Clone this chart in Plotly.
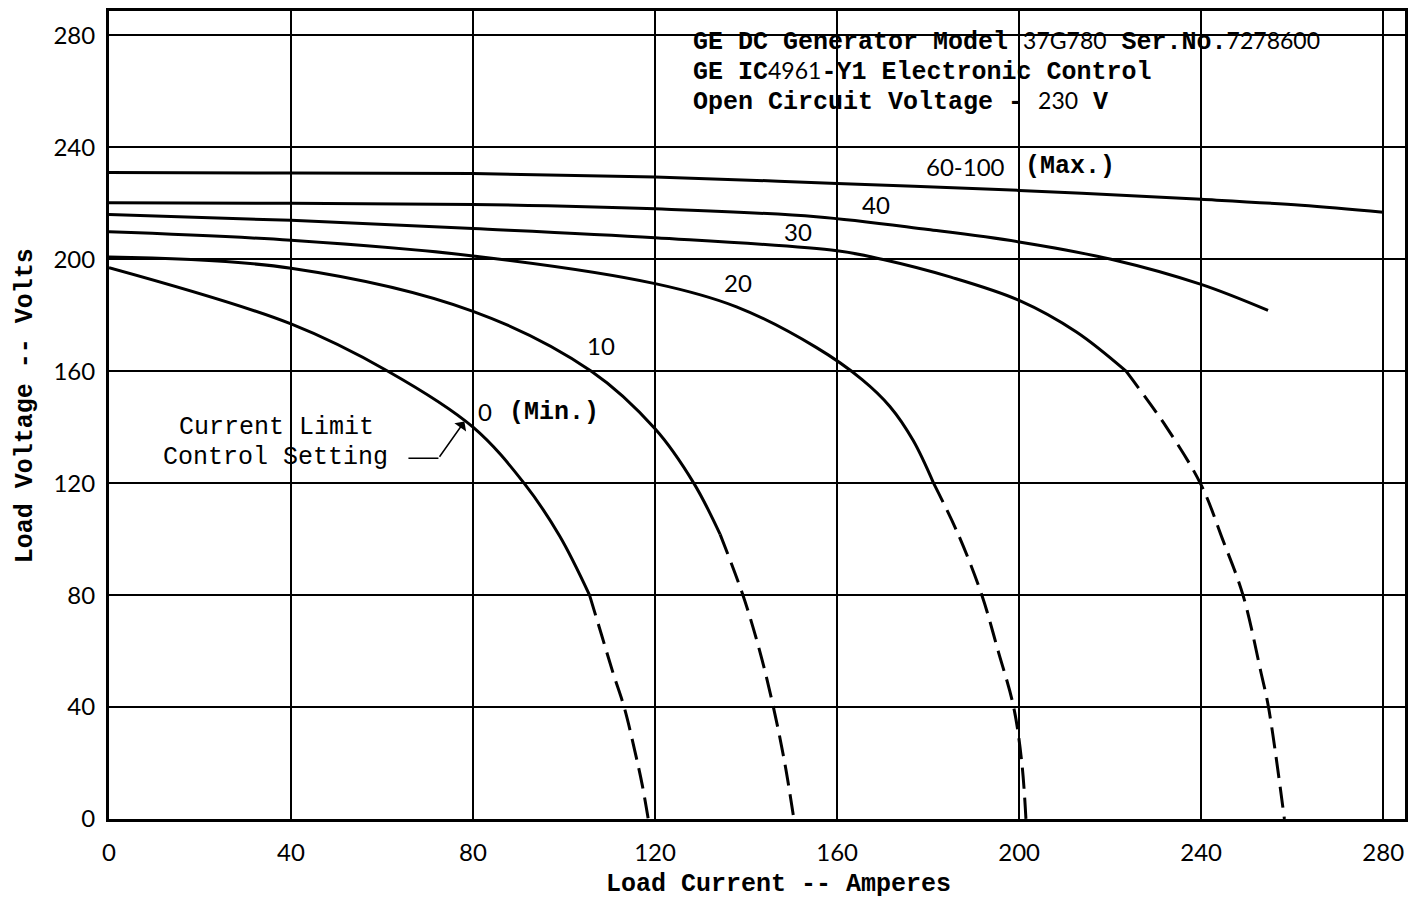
import plotly.graph_objects as go

# ---------------- data ----------------
current_ticks = [0, 40, 80, 120, 160, 200, 240, 280]
current_tick_labels = ["0", "40", "80", "120", "160", "200", "240", "280"]
voltage_ticks = [0, 40, 80, 120, 160, 200, 240, 280]
voltage_tick_labels = ["0", "40", "80", "120", "160", "200", "240", "280"]

# Setting 0 (Min.)
s0_x = [0, 40, 61.3, 80, 91.2, 99, 105.6]
s0_y = [197, 176.9, 160, 140, 120, 101.2, 80]
s0_dash_x = [105.6, 108.2, 110.8, 113.2, 115.6, 117.2, 118.5]
s0_dash_y = [80, 66, 52, 40, 24, 12, 0]

# Setting 10
s10_x = [0, 40, 80, 106, 120, 128.5, 134.3]
s10_y = [200.8, 196.8, 181.4, 160, 139.4, 120, 101.7]
s10_dash_x = [134.3, 139.3, 143, 146, 148.5, 150.5]
s10_dash_y = [101.7, 80, 60, 40, 20, 0]

# Setting 20
s20_x = [0, 40, 80, 120, 137.9, 155.4, 165.5, 171.6, 176.7, 181.2]
s20_y = [209.8, 206.8, 201.2, 191.3, 183, 168.5, 157, 147.4, 135.3, 120]
s20_dash_x = [181.2, 186.7, 191.8, 195.4, 198.8, 200.6, 201.5]
s20_dash_y = [120, 101.4, 80, 60, 40, 20, 0]

# Setting 30
s30_x = [0, 40, 80, 120, 160, 170.1, 185, 200, 212.6, 223.5]
s30_y = [216, 213.9, 211, 207.7, 203, 199.9, 193.6, 185.3, 174, 160]
s30_dash_x = [223.5, 232.3, 240, 244.7, 249.2, 253.2, 254.8, 258.3]
s30_dash_y = [160, 140.2, 119.4, 100, 80, 52, 40, 0]

# Setting 40
s40_x = [0, 40, 80, 120, 155.4, 180, 200, 220.2, 240, 254.7]
s40_y = [220.2, 220, 219.6, 218, 215.2, 210.6, 206.2, 200, 191, 181.7]

# Setting 60-100 (Max.)
smax_x = [0, 40, 80, 120, 160, 200, 240, 262, 280]
smax_y = [231, 230.8, 230.6, 229.4, 227.1, 224.6, 221.4, 219.3, 216.8]

# ---------------- styles ----------------
TYPE = "Liberation Mono"
LETTER = "Lato"
INK = "#000000"

fig = go.Figure()

solid = [(s0_x, s0_y), (s10_x, s10_y), (s20_x, s20_y), (s30_x, s30_y),
         (s40_x, s40_y), (smax_x, smax_y)]
dashed = [(s0_dash_x, s0_dash_y), (s10_dash_x, s10_dash_y),
          (s20_dash_x, s20_dash_y), (s30_dash_x, s30_dash_y)]

for xs, ys in solid:
    fig.add_trace(go.Scatter(x=xs, y=ys, mode="lines",
                             line=dict(color=INK, width=3, shape="spline", smoothing=1.0),
                             showlegend=False, hoverinfo="skip"))
for xs, ys in dashed:
    fig.add_trace(go.Scatter(x=xs, y=ys, mode="lines",
                             line=dict(color=INK, width=3, shape="spline", smoothing=1.0,
                                       dash="21px,9px"),
                             showlegend=False, hoverinfo="skip"))

ann = []
def txt(x, y, t, family=TYPE, size=25, weight="normal", xanchor="center"):
    ann.append(dict(x=x, y=y, xref="x", yref="y", text=t, showarrow=False,
                    xanchor=xanchor, yanchor="middle",
                    font=dict(family=family, size=size, color=INK, weight=weight)))

sans = "<span style=\"font-family:Lato;font-weight:400;font-size:23px\">%s</span>"

# header block
txt(127.9, 277.8, "GE DC Generator Model " + sans % "37G780" + " Ser.No." + sans % "7278600",
    weight="bold", xanchor="left")
txt(127.9, 267.0, "GE IC" + sans % "4961" + "-Y1 Electronic Control", weight="bold", xanchor="left")
txt(127.9, 256.2, "Open Circuit Voltage - " + sans % "230" + " V", weight="bold", xanchor="left")

# curve labels
txt(188.3, 233.2, "60-100", family=LETTER, size=24)
txt(211.1, 233.2, "(Max.)", weight="bold")
txt(168.5, 219.7, "40", family=LETTER, size=24)
txt(151.4, 210.0, "30", family=LETTER, size=24)
txt(138.2, 191.6, "20", family=LETTER, size=24)
txt(108.2, 169.1, "10", family=LETTER, size=24)
txt(82.7, 145.6, "0", family=LETTER, size=24)
txt(97.7, 145.3, "(Min.)", weight="bold")

txt(36.9, 139.8, "Current Limit")
txt(36.6, 129.2, "Control Setting")

# pointer arrow
ann.append(dict(x=78.1, y=142.0, ax=72.4, ay=128.9, xref="x", yref="y",
                axref="x", ayref="y", text="", showarrow=True,
                arrowhead=1, arrowsize=1.6, arrowwidth=1.5, arrowcolor=INK))

# axis titles
ann.append(dict(x=0.5166, y=-0.0815, xref="paper", yref="paper",
                text="Load Current -- Amperes", showarrow=False,
                xanchor="center", yanchor="middle",
                font=dict(family=TYPE, size=25, color=INK, weight="bold")))
ann.append(dict(x=-0.0647, y=0.511, xref="paper", yref="paper",
                text="Load Voltage -- Volts", showarrow=False, textangle=-90,
                xanchor="center", yanchor="middle",
                font=dict(family=TYPE, size=25, color=INK, weight="bold")))

fig.update_layout(
    width=1416, height=904,
    margin=dict(l=109, r=8, t=9, b=85),
    paper_bgcolor="white", plot_bgcolor="white",
    annotations=ann,
    shapes=[dict(type="line", xref="x", yref="y", x0=65.8, y0=128.9, x1=72.4, y1=128.9,
                 line=dict(color=INK, width=1.5))],
    xaxis=dict(range=[0, 284.8], tickvals=current_ticks, ticktext=current_tick_labels,
               showgrid=True, gridcolor=INK, gridwidth=1.5, zeroline=False,
               showline=True, linecolor=INK, linewidth=3, mirror=True, ticks="",
               ticklabelstandoff=10,
               tickfont=dict(family=LETTER, size=24, color=INK, weight=400)),
    yaxis=dict(range=[0, 288.7], tickvals=voltage_ticks, ticktext=voltage_tick_labels,
               showgrid=True, gridcolor=INK, gridwidth=1.5, zeroline=False,
               showline=True, linecolor=INK, linewidth=3, mirror=True, ticks="",
               ticklabelstandoff=6,
               tickfont=dict(family=LETTER, size=24, color=INK, weight=400)),
)

fig.write_html("out.html")
